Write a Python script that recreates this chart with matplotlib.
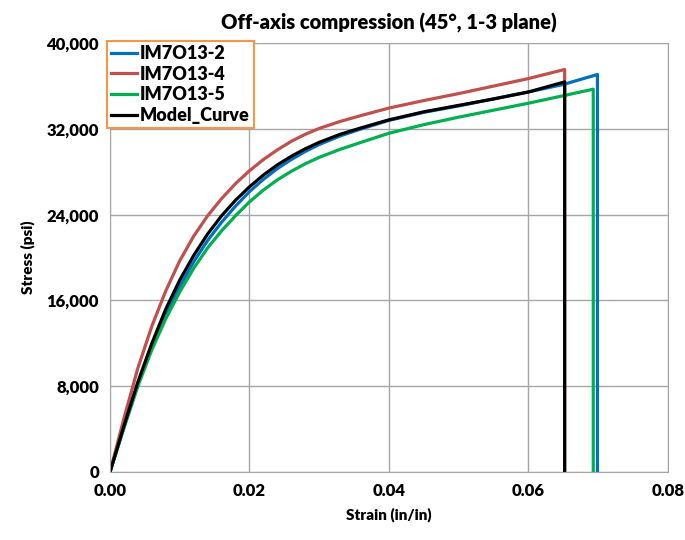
import matplotlib
matplotlib.use("Agg")
import matplotlib.pyplot as plt
from matplotlib.ticker import FuncFormatter

plt.rcParams['font.family'] = ['Lato', 'DejaVu Sans']

# Data (strain in/in, stress psi)
strain_common = [0, 0.002, 0.004, 0.006, 0.008, 0.010, 0.012, 0.014, 0.016, 0.018, 0.020,
                 0.022, 0.024, 0.026, 0.028, 0.030, 0.033, 0.036, 0.040, 0.045, 0.050, 0.055, 0.060]

strain_2 = strain_common + [0.065, 0.0699, 0.0699]
stress_2 = [0, 4200, 8200, 11700, 14700, 17300, 19600, 21600, 23300, 24800, 26150,
            27300, 28300, 29150, 29900, 30550, 31350, 32000, 32800, 33550, 34150, 34800, 35450,
            36150, 37080, 0]

strain_4 = strain_common + [0.0652, 0.0652]
stress_4 = [0, 5000, 9700, 13600, 16900, 19700, 22000, 23900, 25500, 26900, 28100,
            29150, 30050, 30850, 31500, 32050, 32700, 33250, 33950, 34650, 35300, 36000, 36700,
            37550, 0]

strain_5 = strain_common + [0.065, 0.0693, 0.0693]
stress_5 = [0, 4100, 8000, 11400, 14300, 16800, 19000, 20900, 22500, 23900, 25200,
            26300, 27250, 28050, 28750, 29350, 30100, 30750, 31600, 32400, 33100, 33750, 34400,
            35100, 35710, 0]

strain_m = strain_common + [0.0652, 0.0652]
stress_m = [0, 4300, 8400, 12000, 15200, 17900, 20200, 22200, 23900, 25350, 26600,
            27700, 28650, 29450, 30150, 30750, 31500, 32100, 32850, 33600, 34200, 34800, 35450,
            36390, 0]

series = [
    ("IM7O13-2", strain_2, stress_2, "#0070C0"),
    ("IM7O13-4", strain_4, stress_4, "#C0504D"),
    ("IM7O13-5", strain_5, stress_5, "#00B050"),
    ("Model_Curve", strain_m, stress_m, "#000000"),
]

x_ticks = [0.0, 0.02, 0.04, 0.06, 0.08]
y_ticks = [0, 8000, 16000, 24000, 32000, 40000]

fig = plt.figure(figsize=(6.85, 5.4), dpi=100)
ax = fig.add_axes([0.1606, 0.126, 0.975 - 0.1606, 0.920 - 0.126])

for name, x, y, c in series:
    ax.plot(x, y, color=c, lw=2.3, label=name, solid_joinstyle='round')

ax.set_xlim(0, 0.08)
ax.set_ylim(0, 40000)
ax.set_xticks(x_ticks)
ax.set_yticks(y_ticks)
ax.xaxis.set_major_formatter(FuncFormatter(lambda v, p: f"{v:.2f}"))
ax.yaxis.set_major_formatter(FuncFormatter(lambda v, p: f"{int(v):,}"))
ax.grid(True, color="#A6A6A6", lw=1)
ax.set_axisbelow(True)
for s in ax.spines.values():
    s.set_color("#A6A6A6")
ax.tick_params(length=0, labelsize=12, pad=8)
W = 'heavy'
for lab in ax.get_xticklabels() + ax.get_yticklabels():
    lab.set_fontweight(W)

ax.set_xlabel("Strain (in/in)", fontsize=11, fontweight=W, labelpad=6)
ax.set_ylabel("Stress (psi)", fontsize=11, fontweight=W, labelpad=8)
ax.set_title("Off-axis compression (45°, 1-3 plane)", fontsize=14.5, fontweight=W, pad=10)

leg = ax.legend(loc='upper left', bbox_to_anchor=(-0.006, 1.006),
                prop={'family': ['Lato', 'DejaVu Sans'], 'weight': W, 'size': 13},
                handlelength=1.45, handletextpad=0.15,
                borderpad=0.25, labelspacing=0.2, fancybox=False, framealpha=1,
                borderaxespad=0)
leg.get_frame().set_edgecolor("#F79646")
leg.get_frame().set_linewidth(1.5)

fig.savefig("out.png", dpi=100)
